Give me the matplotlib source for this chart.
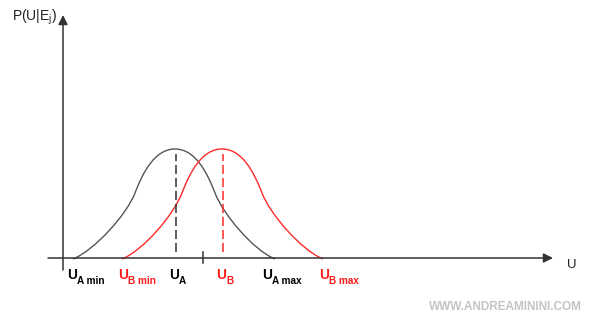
import matplotlib
matplotlib.use('Agg')
import matplotlib.pyplot as plt
from matplotlib.path import Path
from matplotlib.patches import PathPatch

plt.rcParams['font.family'] = ['Liberation Sans', 'DejaVu Sans']
plt.rcParams['mathtext.fontset'] = 'custom'
plt.rcParams['mathtext.rm'] = 'Liberation Sans'
plt.rcParams['mathtext.it'] = 'Liberation Sans'
plt.rcParams['mathtext.bf'] = 'Liberation Sans:bold'

# curve control points (x, height above baseline), drawn as cubic beziers
black_x = [10, 32, 64, 72, 80, 92, 112, 132, 144, 152, 160, 190, 212]
black_y = [0, 9, 45, 66, 87, 110, 110, 110, 87, 66, 45, 9, 0]
red_x = [59, 81, 111, 119, 127, 139, 159, 179, 191, 199, 207, 238, 260]
red_y = [0, 9, 45, 66, 87, 110, 110, 110, 87, 66, 45, 9, 0]

# means (dashed lines)
mean_a = 113
mean_b = 160
dash_lo, dash_hi = 7, 105

# bottom labels
lab_x = [4, 55, 106, 153, 199, 256]
lab_sub = ['A min', 'B min', 'A', 'B', 'A max', 'B max']
lab_col = ['black', '#ff1a1a', 'black', '#ff1a1a', 'black', '#ff1a1a']

RED = '#ff2a2a'

fig = plt.figure(figsize=(5.99, 3.2), dpi=100)
ax = fig.add_axes([0, 0, 1, 1])
ax.set_xlim(-63, 536)
ax.set_ylim(-61, 259)
ax.axis('off')

def bezier(xs, ys, col):
    codes = [Path.MOVETO] + [Path.CURVE4] * (len(xs) - 1)
    p = Path(list(zip(xs, ys)), codes)
    ax.add_patch(PathPatch(p, fc='none', ec=col, lw=1.0))

bezier(black_x, black_y, '#555555')
bezier(red_x, red_y, RED)

ax.plot([mean_a, mean_a], [dash_lo, dash_hi], color='#333333', lw=1.1, dashes=(6, 2.5))
ax.plot([mean_b, mean_b], [dash_lo, dash_hi], color=RED, lw=1.1, dashes=(6, 2.5))

# axes with arrows
ax.annotate('', xy=(0, 244), xytext=(0, -11),
            arrowprops=dict(arrowstyle='-|>', color='#333333', lw=1.1,
                            mutation_scale=14, shrinkA=0, shrinkB=0))
ax.annotate('', xy=(490, 1), xytext=(-15, 1),
            arrowprops=dict(arrowstyle='-|>', color='#333333', lw=1.1,
                            mutation_scale=14, shrinkA=0, shrinkB=0))
ax.plot([140, 140], [-4, 7], color='#333333', lw=1.1)

ax.text(-51, 238, r'P(U|E$_\mathrm{j}$)', fontsize=10, va='baseline', ha='left',
        color='#222222')
ax.text(504, -9, 'U', fontsize=9.5, va='baseline', ha='left', color='#222222')

for x, s, c in zip(lab_x, lab_sub, lab_col):
    ax.text(x, -20, 'U', fontsize=9.8, fontweight='bold', color=c, va='baseline', ha='left')
    ax.text(x + 10, -25, s, fontsize=7.2, fontweight='bold', color=c, va='baseline', ha='left')

ax.text(519, -51, 'WWW.ANDREAMININI.COM', fontsize=8.5, fontweight='bold',
        color='#c4c4c4', va='baseline', ha='right')

fig.savefig('out.png', dpi=100)
